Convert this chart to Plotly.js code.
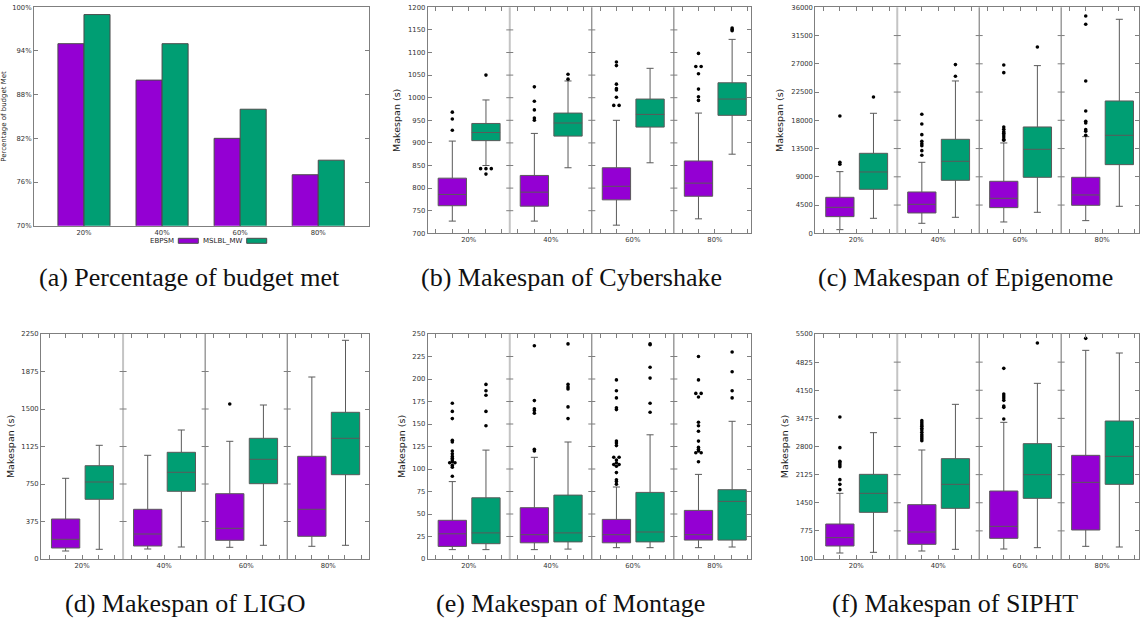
<!DOCTYPE html>
<html>
<head>
<meta charset="utf-8">
<script src="https://cdn.plot.ly/plotly-3.0.1.min.js"></script>
<style>
  html, body { margin: 0; padding: 0; background: #fff; }
  #chart { width: 1146px; height: 621px; }
</style>
</head>
<body>
<div id="chart"></div>
<script>
// Budget ratio groups
const GROUPS = ['20%', '40%', '60%', '80%'];
const ALGOS = ['EBPSM', 'MSLBL_MW'];

// (a) Percentage of budget met
const budgetEBPSM = [95, 90, 82, 77];
const budgetMSLBL = [99, 95, 86, 79];

// Box statistics per group: [lower whisker, q1, median, q3, upper whisker]
// Outliers per group listed separately.

// (b) Cybershake
const cyberEBPSM = [[727, 761, 786, 822, 904], [727, 760, 791, 828, 921], [718, 774, 804, 845, 950], [732, 782, 811, 860, 966]];
const cyberEBPSMOut = [[968, 953, 928], [1024, 992, 973, 955, 950], [1079, 1071, 1030, 1020, 1017, 1001, 983, 983], [1098, 1069, 1069, 1053, 1019, 1002, 994]];
const cyberMSLBL = [[850, 905, 923, 943, 995], [845, 915, 944, 966, 1037], [856, 935, 963, 997, 1065], [875, 961, 997, 1033, 1129]];
const cyberMSLBLOut = [[1050, 843, 843, 843, 831], [1052, 1041], [], [1154, 1151, 1148]];

// (c) Epigenome
const epiEBPSM = [[584, 2655, 4142, 5735, 9823], [1593, 3239, 4620, 6584, 11310], [1805, 4089, 5576, 8284, 14391], [2018, 4460, 6107, 8921, 15399]];
const epiEBPSMOut = [[18690, 11310, 10992], [18956, 17416, 15718, 14656, 14284, 13965, 13169, 12425], [26816, 25594, 16939, 16567, 16196, 15930, 15664, 15346, 14974, 14815], [34621, 33294, 24267, 19488, 17841, 17576, 16514, 16249, 15612]];
const epiMSLBL = [[2390, 7009, 9770, 12744, 19116], [2549, 8443, 11470, 14974, 24267], [3345, 8921, 13381, 16939, 26710], [4301, 10939, 15612, 21081, 34090]];
const epiMSLBLOut = [[21718], [26869, 25010], [29684], []];

// (d) LIGO
const ligoEBPSM = [[80, 110, 197, 400, 807], [100, 130, 250, 497, 1037], [117, 187, 307, 653, 1177], [127, 227, 497, 1027, 1820]];
const ligoEBPSMOut = [[], [], [1550], []];
const ligoMSLBL = [[97, 597, 770, 933, 1137], [120, 677, 867, 1067, 1290], [137, 753, 997, 1207, 1540], [137, 843, 1207, 1467, 2187]];
const ligoMSLBLOut = [[], [], [], []];

// (e) Montage
const montEBPSM = [[10.4, 14, 28, 43, 86], [10.4, 18, 27, 57, 113], [12.6, 18, 27, 44, 80], [12.6, 21, 27, 54, 94]];
const montEBPSMOut = [
  [173, 164, 156, 132, 130, 120, 117, 114, 112, 110, 108, 107, 107, 104, 102, 92],
  [237, 176, 167, 165, 162, 122, 120],
  [199, 187, 179, 168, 166, 131, 129, 126, 113, 113, 110, 107, 105, 105, 103, 96, 88, 86, 83],
  [225, 199, 184, 184, 180, 152, 148, 142, 131, 124, 122, 120, 118, 118, 108]
];
const montMSLBL = [[10.4, 17, 29, 68, 121], [11, 19, 29, 71, 130], [12.6, 19, 30, 74, 138], [13.3, 21, 64, 77, 153]];
const montMSLBLOut = [[194, 187, 182, 164, 148], [239, 194, 191, 189, 169, 156], [239, 238, 213, 201, 173, 163], [230, 208, 187, 179]];

// (f) SIPHT
const siphtEBPSM = [[244, 412, 612, 940, 1676], [292, 452, 748, 1404, 2716], [340, 596, 884, 1732, 3380], [404, 796, 1940, 2588, 5108]];
const siphtEBPSMOut = [[3508, 2772, 2444, 2412, 2364, 2316, 2004, 1892, 1764], [3420, 3372, 3324, 3284, 3236, 3196, 3140, 3084, 3036, 2988, 2940], [4676, 4060, 4012, 3964, 3908, 3772, 3740, 3460], [5396]];
const siphtMSLBL = [[260, 1220, 1676, 2132, 3132], [332, 1316, 1892, 2508, 3812], [372, 1556, 2124, 2868, 4316], [388, 1892, 2564, 3412, 5044]];
const siphtMSLBLOut = [[], [], [5284], []];

// ---- styling ----
const W = 1146, H = 621;
const PURPLE = '#9400D3', GREEN = '#009E73';
const AXIS_GREY = '#7f7f7f';
const TICK_FONT = { family: 'DejaVu Sans', size: 6.8, color: '#333' };
const TITLE_FONT = { family: 'DejaVu Sans', size: 9.5, color: '#222' };
const CAPTION_FONT = { family: 'Liberation Serif', size: 26, color: '#111' };
const BOX_OFFSET = { EBPSM: -0.2, MSLBL_MW: 0.21 };
const BOX_WIDTH = 0.345;
const DODGE = 0.065;

const px = (x) => x / W;
const py = (y) => 1 - y / H;

const traces = [];
const shapes = [];
const annotations = [];
const layout = {
  width: W, height: H,
  margin: { l: 0, r: 0, t: 0, b: 0 },
  paper_bgcolor: '#fff', plot_bgcolor: '#fff',
  showlegend: false,
  barmode: 'group', bargap: 0.333, bargroupgap: 0,
  boxmode: 'overlay',
  font: { family: 'DejaVu Sans', color: '#222' }
};

// ---- (a) bar chart ----
layout.xaxis = {
  domain: [px(34), px(369)], anchor: 'y',
  type: 'category', categoryorder: 'array', categoryarray: GROUPS,
  range: [-0.64, 3.65],
  showline: true, linecolor: AXIS_GREY, linewidth: 1, mirror: true,
  ticks: '', showgrid: false, zeroline: false,
  tickfont: TICK_FONT
};
layout.yaxis = {
  domain: [py(225.7), py(7.3)], anchor: 'x',
  range: [70, 100], tick0: 70, dtick: 6, ticksuffix: '%',
  showline: true, linecolor: AXIS_GREY, linewidth: 1, mirror: 'ticks',
  ticks: 'inside', ticklen: 4, tickcolor: AXIS_GREY,
  showgrid: false, zeroline: false,
  tickfont: TICK_FONT,
  title: { text: 'Percentage of budget Met', font: { family: 'DejaVu Sans', size: 7, color: '#222' }, standoff: 6 }
};
traces.push({
  type: 'bar', x: GROUPS, y: budgetEBPSM, name: 'EBPSM',
  marker: { color: PURPLE, line: { color: '#4a4a4a', width: 1 } },
  xaxis: 'x', yaxis: 'y', hoverinfo: 'skip'
});
traces.push({
  type: 'bar', x: GROUPS, y: budgetMSLBL, name: 'MSLBL_MW',
  marker: { color: GREEN, line: { color: '#4a4a4a', width: 1 } },
  xaxis: 'x', yaxis: 'y', hoverinfo: 'skip'
});

// legend of (a): label first, colour sample after it
const legendFont = { family: 'DejaVu Sans', size: 7, color: '#222' };
annotations.push({ xref: 'paper', yref: 'paper', x: px(176), y: py(240.7), xanchor: 'right', yanchor: 'middle', text: 'EBPSM', showarrow: false, font: legendFont });
shapes.push({ type: 'rect', xref: 'paper', yref: 'paper', x0: px(178.3), x1: px(198.3), y0: py(243.3), y1: py(238.3), fillcolor: PURPLE, line: { color: '#4a4a4a', width: 1 } });
annotations.push({ xref: 'paper', yref: 'paper', x: px(245), y: py(240.7), xanchor: 'right', yanchor: 'middle', text: 'MSLBL_MW', showarrow: false, font: legendFont });
shapes.push({ type: 'rect', xref: 'paper', yref: 'paper', x0: px(246.7), x1: px(266.7), y0: py(243.3), y1: py(238.3), fillcolor: GREEN, line: { color: '#4a4a4a', width: 1 } });

// ---- box plot panels ----
const panels = [
  { n: 2, data: [cyberEBPSM, cyberMSLBL], out: [cyberEBPSMOut, cyberMSLBLOut], yr: [700, 1200], dt: 50, xr: [-0.5, 3.44], xd: [427.7, 751], yd: [233.3, 7.3] },
  { n: 3, data: [epiEBPSM, epiMSLBL], out: [epiEBPSMOut, epiMSLBLOut], yr: [0, 36000], dt: 4500, xr: [-0.5, 3.45], xd: [815.3, 1139], yd: [233.3, 7.3] },
  { n: 4, data: [ligoEBPSM, ligoMSLBL], out: [ligoEBPSMOut, ligoMSLBLOut], yr: [0, 2250], dt: 375, xr: [-0.5, 3.5], xd: [41, 369.3], yd: [559, 334] },
  { n: 5, data: [montEBPSM, montMSLBL], out: [montEBPSMOut, montMSLBLOut], yr: [0, 250], dt: 25, xr: [-0.5, 3.44], xd: [427.7, 751], yd: [559, 334] },
  { n: 6, data: [siphtEBPSM, siphtMSLBL], out: [siphtEBPSMOut, siphtMSLBLOut], yr: [100, 5500], dt: 675, xr: [-0.5, 3.45], xd: [815.3, 1139], yd: [559, 334] }
];

const fills = [PURPLE, GREEN];

panels.forEach((p) => {
  const xa = 'x' + p.n, ya = 'y' + p.n;
  layout['xaxis' + p.n] = {
    domain: [px(p.xd[0]), px(p.xd[1])], anchor: ya,
    range: p.xr,
    tickmode: 'array', tickvals: GROUPS.map((_, i) => i), ticktext: GROUPS,
    ticks: 'inside', ticklen: 4, tickcolor: AXIS_GREY,
    minor: { tickmode: 'linear', tick0: 0, dtick: 0.2, ticks: 'inside', ticklen: 4, tickcolor: AXIS_GREY, showgrid: false },
    showline: true, linecolor: AXIS_GREY, linewidth: 1, mirror: 'allticks',
    showgrid: false, zeroline: false,
    tickfont: TICK_FONT
  };
  layout['yaxis' + p.n] = {
    domain: [py(p.yd[0]), py(p.yd[1])], anchor: xa,
    range: p.yr, tick0: p.yr[0], dtick: p.dt,
    tickformat: 'd', exponentformat: 'none', separatethousands: false,
    ticks: 'inside', ticklen: 4, tickcolor: AXIS_GREY,
    showline: true, linecolor: AXIS_GREY, linewidth: 1, mirror: 'ticks',
    showgrid: false, zeroline: false,
    tickfont: TICK_FONT,
    title: { text: 'Makespan (s)', font: TITLE_FONT, standoff: 5 }
  };

  // group separators, with tick crosses at every y tick
  [0.5, 1.5, 2.5].forEach((sx, k) => {
    shapes.push({
      type: 'line', xref: xa, yref: ya + ' domain', x0: sx, x1: sx, y0: 0, y1: 1,
      line: { color: k === 0 ? '#c4c4c4' : '#6a6a6a', width: k === 0 ? 2 : 1 }
    });
    for (let v = p.yr[0] + p.dt; v < p.yr[1]; v += p.dt) {
      shapes.push({
        type: 'line', xref: xa, yref: ya, xsizemode: 'pixel', xanchor: sx,
        x0: -3.5, x1: 3.5, y0: v, y1: v,
        line: { color: AXIS_GREY, width: 1 }
      });
    }
  });

  ALGOS.forEach((algo, a) => {
    const stats = p.data[a];
    const xs = GROUPS.map((_, i) => i + BOX_OFFSET[algo]);
    traces.push({
      type: 'box', name: algo, xaxis: xa, yaxis: ya,
      x: xs,
      lowerfence: stats.map(s => s[0]),
      q1: stats.map(s => s[1]),
      median: stats.map(s => s[2]),
      q3: stats.map(s => s[3]),
      upperfence: stats.map(s => s[4]),
      boxpoints: false,
      width: BOX_WIDTH, whiskerwidth: 0.25,
      fillcolor: fills[a],
      line: { color: '#5a5a5a', width: 1 },
      hoverinfo: 'skip'
    });

    // outliers; repeated values are spread sideways so each stays visible
    const ox = [], oy = [];
    p.out[a].forEach((vals, i) => {
      const counts = {}, seen = {};
      vals.forEach(v => { counts[v] = (counts[v] || 0) + 1; });
      vals.forEach(v => {
        const k = seen[v] || 0;
        seen[v] = k + 1;
        ox.push(i + BOX_OFFSET[algo] + (k - (counts[v] - 1) / 2) * DODGE);
        oy.push(v);
      });
    });
    if (ox.length) {
      traces.push({
        type: 'scatter', mode: 'markers', xaxis: xa, yaxis: ya,
        x: ox, y: oy,
        marker: { color: '#000', size: 3.6 },
        hoverinfo: 'skip'
      });
    }
  });
});

// ---- sub-figure captions ----
const captions = [
  ['(a) Percentage of budget met', 189, 277],
  ['(b) Makespan of Cybershake', 571.7, 277],
  ['(c) Makespan of Epigenome', 966, 277],
  ['(d) Makespan of LIGO', 184.7, 603],
  ['(e) Makespan of Montage', 570, 603],
  ['(f) Makespan of SIPHT', 955, 603]
];
captions.forEach(([t, x, y]) => {
  annotations.push({
    xref: 'paper', yref: 'paper', x: px(x), y: py(y),
    xanchor: 'center', yanchor: 'middle', showarrow: false,
    text: t, font: CAPTION_FONT
  });
});

layout.shapes = shapes;
layout.annotations = annotations;

Plotly.newPlot('chart', traces, layout, { displayModeBar: false, staticPlot: true });
</script>
</body>
</html>
